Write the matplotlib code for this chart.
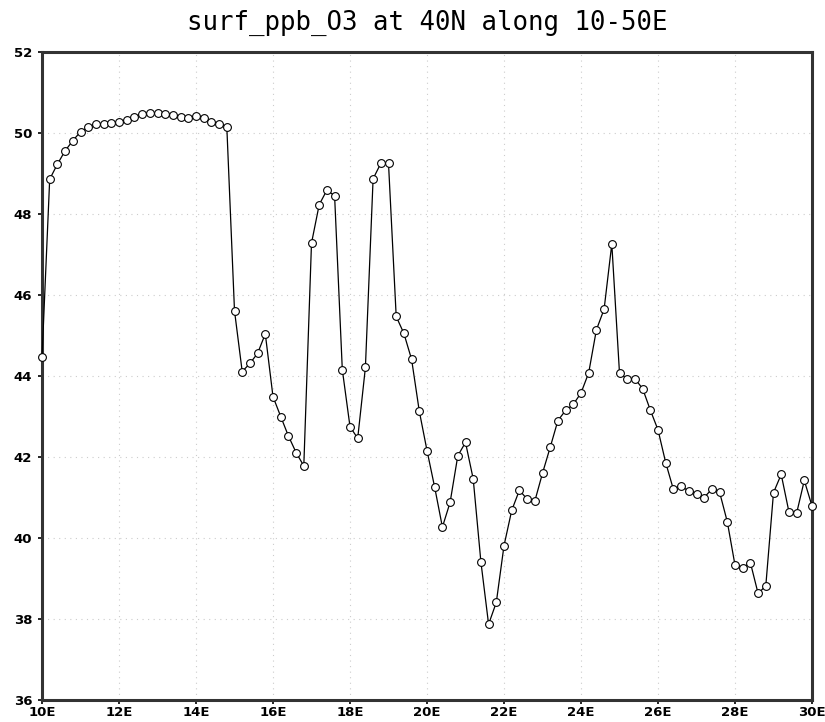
import numpy as np
import matplotlib
matplotlib.use("Agg")
import matplotlib.pyplot as plt

# longitude (deg E), 0.2 deg spacing from 10E to 30E
lons = np.round(np.arange(10.0, 30.01, 0.2), 1)

# surface ozone (ppb)
o3 = [44.46, 48.86, 49.23, 49.56, 49.81, 50.03, 50.14, 50.21, 50.23, 50.25,
      50.27, 50.32, 50.40, 50.47, 50.50, 50.49, 50.47, 50.45, 50.39, 50.37,
      50.42, 50.38, 50.28, 50.21, 50.16, 45.61, 44.11, 44.31, 44.56, 45.04,
      43.49, 43.00, 42.52, 42.11, 41.78, 47.28, 48.23, 48.59, 48.45, 44.16,
      42.75, 42.46, 44.21, 48.87, 49.25, 49.25, 45.47, 45.05, 44.41, 43.13,
      42.16, 41.25, 40.27, 40.88, 42.03, 42.36, 41.46, 39.41, 37.87, 38.41,
      39.81, 40.68, 41.18, 40.96, 40.91, 41.60, 42.24, 42.90, 43.15, 43.30,
      43.58, 44.08, 45.14, 45.65, 47.26, 44.07, 43.93, 43.93, 43.69, 43.16,
      42.67, 41.86, 41.20, 41.28, 41.16, 41.09, 41.00, 41.21, 41.13, 40.40,
      39.33, 39.27, 39.39, 38.63, 38.82, 41.12, 41.57, 40.65, 40.61, 41.42,
      40.79]

xticks = [10, 12, 14, 16, 18, 20, 22, 24, 26, 28, 30]
xticklabels = ["10E", "12E", "14E", "16E", "18E", "20E", "22E", "24E", "26E", "28E", "30E"]
yticks = [36, 38, 40, 42, 44, 46, 48, 50, 52]

fig = plt.figure(figsize=(8.25, 7.22), dpi=100)
ax = fig.add_axes([42 / 825, 22 / 722, 770 / 825, 648 / 722])

ax.plot(lons, o3, color="black", linewidth=0.9, marker="o", markersize=5.6,
        markerfacecolor="white", markeredgecolor="black", markeredgewidth=0.8,
        clip_on=False, zorder=3)

ax.set_xlim(10, 30)
ax.set_ylim(36, 52)
ax.set_xticks(xticks)
ax.set_xticklabels(xticklabels)
ax.set_yticks(yticks)
ax.grid(True, color="#cccccc", linestyle=(0, (1, 4)), linewidth=0.8)
ax.tick_params(direction="out", length=3, width=1.2, labelsize=9.5)
ax.tick_params(axis="y", pad=4)
ax.tick_params(axis="x", pad=1)
for lab in ax.get_xticklabels() + ax.get_yticklabels():
    lab.set_fontweight("bold")
for s in ax.spines.values():
    s.set_linewidth(2.2)
    s.set_color("#333333")

ax.set_title("surf_ppb_O3 at 40N along 10-50E", fontsize=18.5,
             family="DejaVu Sans Mono", pad=16)

plt.savefig("out.png", dpi=100)
